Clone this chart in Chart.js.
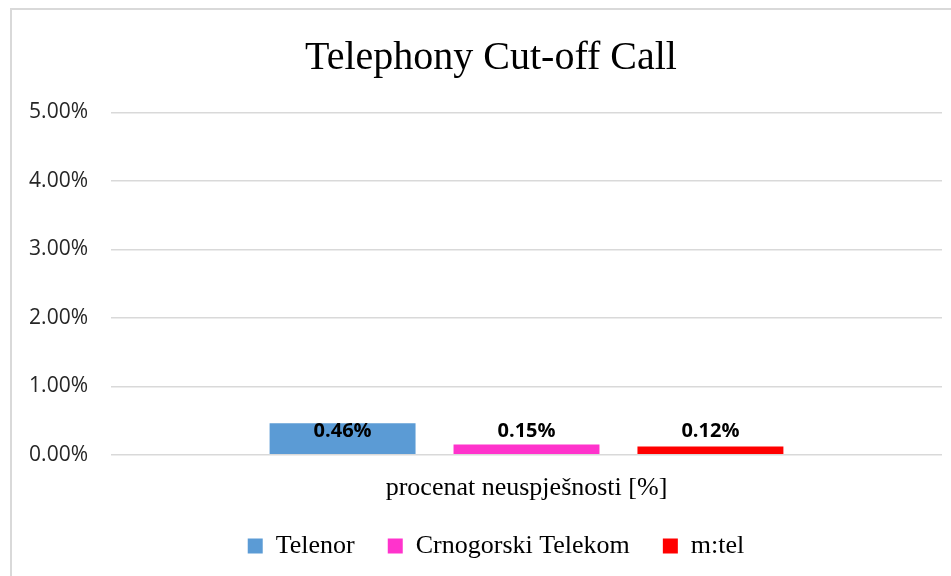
<!DOCTYPE html>
<html>
<head>
<meta charset="utf-8">
<script src="https://cdn.jsdelivr.net/npm/chart.js@4.4.1/dist/chart.umd.min.js"></script>
<style>
  html, body { margin:0; padding:0; background:#fff; overflow:hidden; width:951px; height:576px; }
  #frame {
    position:absolute; left:10px; top:8px;
    width:990px; height:620px;
    border:2px solid #d9d9d9;
  }
  #wrap { position:absolute; left:0; top:0; width:964px; height:581px; }
</style>
</head>
<body>
<div id="frame"><div id="wrap"><canvas id="chart"></canvas></div></div>
<script>
/* ─── Data ────────────────────────────────────────────────────────────── */
const categories = ["procenat neuspješnosti [%]"];
const operators  = ["Telenor", "Crnogorski Telekom", "m:tel"];
const failRates  = [[0.46], [0.15], [0.12]];   // percent
const opColors   = ["#5b9bd5", "#ff33cc", "#ff0000"];
const yTicks     = [0, 1, 2, 3, 4, 5];

const SERIF = "'Liberation Serif', 'DejaVu Serif', serif";
const SANS  = "'Open Sans', 'DejaVu Sans', sans-serif";

/* ─── Value labels, placed just above the axis line ───────────────────── */
const valueLabels = {
  id: "valueLabels",
  afterDatasetsDraw(chart) {
    const { ctx, scales: { y } } = chart;
    const yBase = y.getPixelForValue(0);
    ctx.save();
    ctx.font = `bold 20px ${SANS}`;
    ctx.fillStyle = "#000";
    ctx.textAlign = "center";
    ctx.textBaseline = "middle";
    chart.data.datasets.forEach((ds, i) => {
      chart.getDatasetMeta(i).data.forEach((bar, j) => {
        ctx.fillText(ds.data[j].toFixed(2) + "%", bar.x, yBase - 24);
      });
    });
    ctx.restore();
  },
};

/* ─── Nudge title / legend to where the original frame centres them ──── */
const nudgeBoxes = {
  id: "nudgeBoxes",
  afterLayout(chart) {
    const shift = (box, dx, dy) => {
      if (!box) return;
      box.left += dx; box.right += dx;
      box.top += dy;  box.bottom += dy;
    };
    shift(chart.titleBlock, 14, 0);
    shift(chart.legend, 19, -22);
  },
};

new Chart(document.getElementById("chart"), {
  type: "bar",
  data: {
    labels: categories,
    datasets: operators.map((name, i) => ({
      label: name,
      data: failRates[i],
      backgroundColor: opColors[i],
      borderWidth: 0,
      categoryPercentage: 0.664,
      barPercentage: 0.7935,
    })),
  },
  options: {
    responsive: true, maintainAspectRatio: false, animation: false,
    layout: { padding: { left: 0, right: 34, top: 0, bottom: 0 } },
    plugins: {
      tooltip: { enabled: false },
      title: {
        display: true,
        text: "Telephony Cut-off Call",
        color: "#000",
        font: { family: SERIF, size: 40, weight: "normal" },
        padding: { top: 24.5, bottom: 30 },
      },
      legend: {
        position: "bottom",
        labels: {
          color: "#000",
          font: { family: SERIF, size: 26 },
          boxWidth: 15, boxHeight: 15,
          padding: 33,
        },
      },
    },
    scales: {
      x: {
        grid: { display: false, drawTicks: false },
        border: { display: false },
        ticks: { color: "#000", padding: 18, font: { family: SERIF, size: 26 } },
      },
      y: {
        min: 0, max: 5,
        afterFit: s => { s.width = 99; },
        afterBuildTicks: s => { s.ticks = yTicks.map(v => ({ value: v })); },
        grid: { color: "#d9d9d9", lineWidth: 1.5, drawTicks: false },
        border: { display: false },
        ticks: {
          color: "#262626",
          padding: 23,
          font: { family: SANS, size: 21 },
          callback: v => v.toFixed(2) + "%",
        },
      },
    },
  },
  plugins: [valueLabels, nudgeBoxes],
});
</script>
</body>
</html>
